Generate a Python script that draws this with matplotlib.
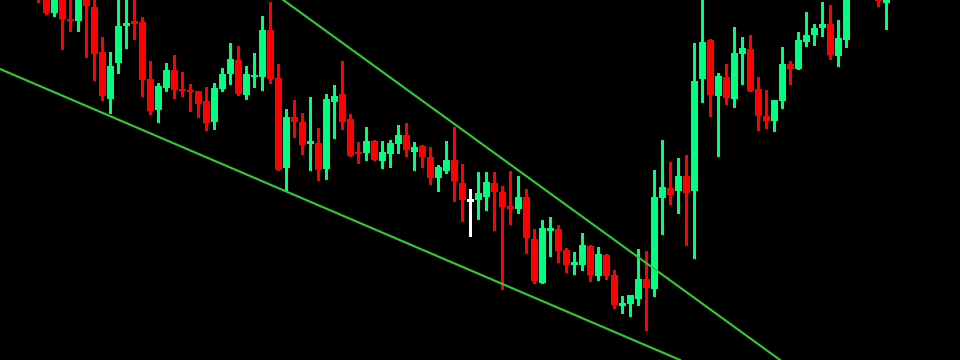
import numpy as np
import matplotlib
matplotlib.use('Agg')
import matplotlib.pyplot as plt

# bar index of each candle (106-108 are off the top of the view and left out)
bars = list(range(4, 106)) + [109, 110]

opens = [375, 363, 347.3, 362, 341, 339, 363, 353, 308, 261, 297, 334, 338, 338, 281, 250, 272, 290, 271, 270,
         269, 259, 238, 271, 286, 300, 265, 283, 283, 330, 282, 192, 243, 238, 216, 217, 191, 258, 266, 241,
         208, 207, 219, 199, 206, 216, 225, 208, 214, 203, 182, 189, 200, 177, 159.5, 160, 163, 177, 168, 154,
         151, 163, 121, 77, 129, 131, 110, 95, 95, 114, 84, 105, 85, 54, 56, 61, 81, 71, 162, 172,
         169, 184, 169, 281, 320, 264, 283, 261, 306, 311, 271, 244, 239, 259, 296, 291, 318, 325, 332, 336,
         304, 320, 361, 357]
highs = [380, 368, 366, 365, 362, 364, 366, 361, 323, 308, 361, 361, 361, 343, 299, 277, 297, 305, 288, 276,
         269, 273, 277, 292, 317, 314, 294, 307, 344, 358, 296, 251, 260, 247, 263, 232, 266, 275, 299, 246,
         218, 233, 220, 219, 220, 235, 237, 218, 215, 213, 195, 219, 233, 196, 171, 188, 188, 188, 174, 189,
         184, 171, 131, 140, 143, 135, 112, 108, 127, 115, 113, 106, 90, 64, 65, 111, 109, 190, 220, 198,
         202, 205, 317, 362, 321, 287, 296, 333, 323, 325, 283, 270, 260, 313, 299, 328, 348, 336, 358, 355,
         340, 368, 364, 365]
lows = [358.3, 346, 344.3, 311, 329, 329, 303, 280, 260, 247, 287, 312, 321, 264, 246, 238, 269, 262, 264, 249,
        243, 230, 231, 269, 276, 265, 261, 273, 270, 277, 190, 169, 223, 206, 190, 180, 181, 222, 231, 204,
        197, 200, 200, 192, 193, 207, 204, 190, 193, 176, 169, 187, 159, 139, 124, 141, 150, 130, 71, 136,
        147, 107, 77, 77, 104, 98, 88, 86, 90, 79, 80, 81, 52, 47, 44, 55, 30, 64, 126, 156,
        147, 115, 102, 258, 244, 204, 256, 253, 276, 269, 230, 232, 229, 252, 276, 291, 314, 315, 324, 301,
        294, 313, 354, 331]
closes = [365, 347.3, 362, 341, 339, 361, 354.3, 306, 264, 294, 334, 337, 337, 280, 249, 274, 290, 270, 269, 268,
          256, 237, 272, 286, 301, 266, 286, 285, 330, 281, 190, 243, 238, 215, 219, 190, 261, 264, 238, 204,
          206, 219, 200, 208, 217, 225, 210, 213, 203, 182, 193, 200, 179, 160, 159.5, 167, 178, 168, 153, 151,
          163, 122, 79, 132, 132, 109, 95, 98, 115, 85, 106, 84, 55, 57, 65, 81, 72, 163, 173, 165,
          184, 167, 279, 318, 265, 284, 262, 307, 312, 269, 244, 239, 260, 296, 291, 320, 325, 332, 336, 305,
          322, 363, 359, 363]

# trend lines: two anchor points each (bar, price)
lower_line = [(-0.81, 291), (84.2, 0)]
upper_line = [(34.6, 360), (96.7, 0)]

bull_color = '#00ff7f'
bear_color = '#ff0000'
doji_color = '#ffffff'
line_color = '#32cd32'

fig = plt.figure(figsize=(9.6, 3.6), dpi=100, facecolor='black')
ax = fig.add_axes([0, 0, 1, 1])
ax.set_facecolor('black')

for i in range(len(bars)):
    o, h, l, c = opens[i], highs[i], lows[i], closes[i]
    if c > o:
        color = bull_color
    elif c < o:
        color = bear_color
    else:
        color = doji_color
    ax.vlines(bars[i], l, h, color=color, linewidth=0.75, antialiased=False)
    body = max(abs(c - o), 1.2)
    rects = ax.bar(bars[i], body, bottom=min(o, c) - (body - abs(c - o)) / 2, width=0.68,
                   color=color, linewidth=0, antialiased=False)
    for r in rects:
        r.set_snap(False)

ax.axline(lower_line[0], lower_line[1], color=line_color, linewidth=1.5)
ax.axline(upper_line[0], upper_line[1], color=line_color, linewidth=1.5)

ax.set_xlim(-0.8125, 119.19)
ax.set_ylim(0, 360)
ax.axis('off')

fig.savefig('out.png', dpi=100, facecolor='black')
